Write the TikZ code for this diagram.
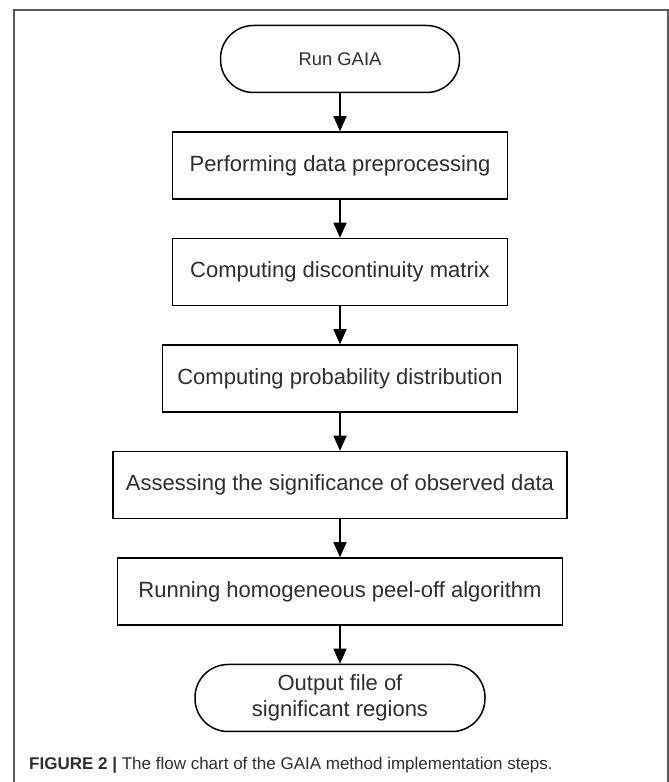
\documentclass[tikz,border=0pt]{standalone}
\usepackage{fontspec}
\setmainfont{Liberation Sans}
\usetikzlibrary{arrows.meta,positioning}

\begin{document}
\begin{tikzpicture}[x=1pt,y=1pt,
    proc/.style={draw, line width=1.5pt, minimum height=67pt, inner sep=0pt,
        font=\fontsize{22}{26}\selectfont, text=black!82},
    term/.style={proc, rounded corners=33pt, align=center},
    flow/.style={line width=1.5pt, -{Triangle[width=13pt,length=15pt]}},
    node distance=38pt]

% 画布范围
\useasboundingbox (0,0) rectangle (669,782);

% 外框, 底边不画
\draw[black!65, line width=2pt] (14,0) -- (14,772) -- (668,772) -- (668,0);

% 流程节点
\node[term, minimum width=239pt, font=\fontsize{18.4}{22}\selectfont] (run) at (340,723) {Run GAIA};
\node[proc, minimum width=335pt, below=of run] (prep) {Performing data preprocessing};
\node[proc, minimum width=335pt, below=of prep] (disc) {Computing discontinuity matrix};
\node[proc, minimum width=355pt, below=of disc] (prob) {Computing probability distribution};
\node[proc, minimum width=454pt, below=of prob] (sig) {Assessing the significance of observed data};
\node[proc, minimum width=445pt, below=of sig] (peel) {Running homogeneous peel-off algorithm};
\node[term, minimum width=290pt, below=of peel] (out) {Output file of\\significant regions};

% 箭头
\foreach \a/\b in {run/prep, prep/disc, disc/prob, prob/sig, sig/peel, peel/out} {
    \draw[flow] (\a) -- (\b);
}

% 图注
\node[anchor=west, inner sep=0pt, font=\fontsize{17}{20}\selectfont, text=black!82] (cap) at (29,17)
    {\textbf{FIGURE 2 |} The flow chart of the GAIA method implementation steps.};

\end{tikzpicture}
\end{document}
